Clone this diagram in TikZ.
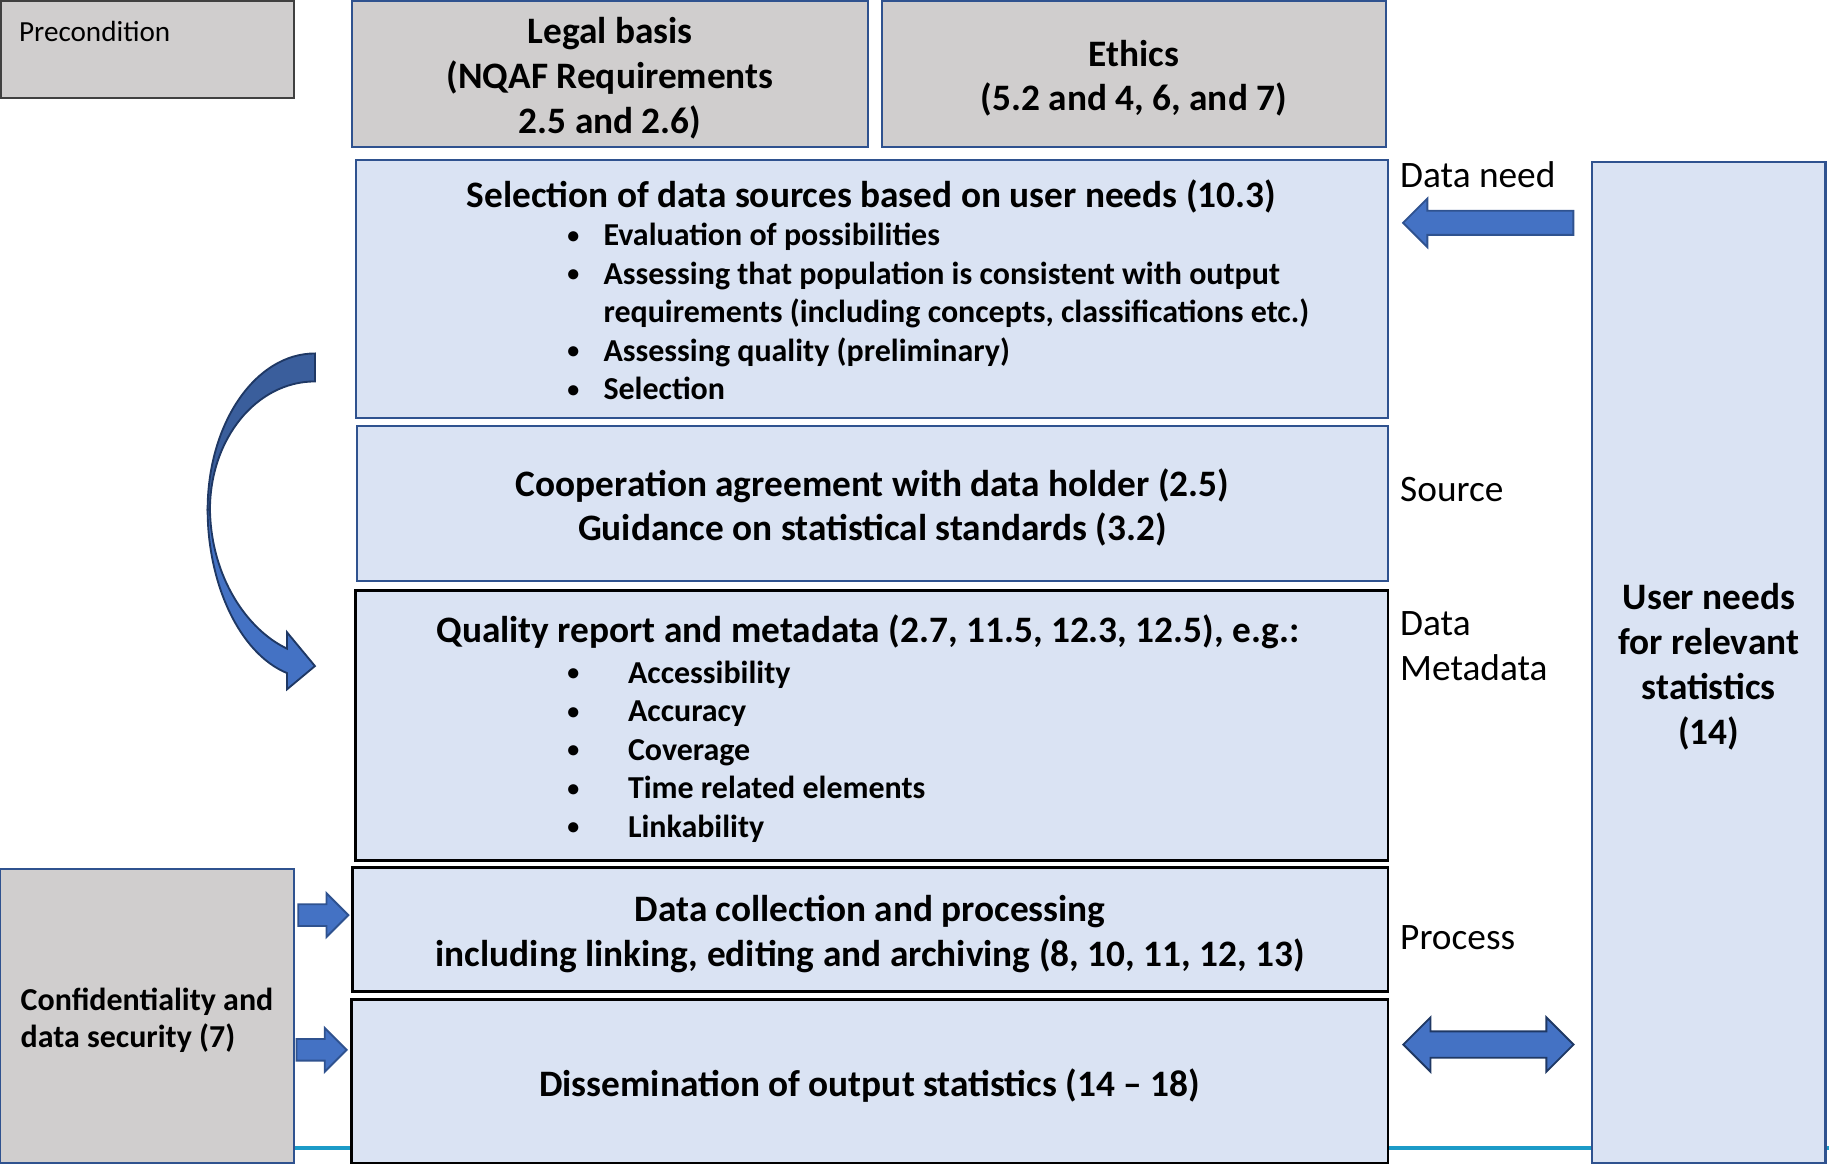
\documentclass[tikz,border=0pt]{standalone}
\usepackage{fontspec}
\setmainfont{Carlito}
\usetikzlibrary{shapes.arrows}
\definecolor{boxgray}{HTML}{D0CECE}
\definecolor{boxblue}{HTML}{DAE3F3}
\definecolor{edgeblue}{HTML}{2F528F}
\definecolor{edgegray}{HTML}{404040}
\definecolor{arrowblue}{HTML}{4472C4}
\definecolor{darkedge}{HTML}{1F3864}
\definecolor{curvedark}{HTML}{3A5E9C}
\definecolor{rulecyan}{HTML}{1C9BC8}
\newcommand\listbullet{\raisebox{1.1pt}{\scalebox{0.75}{\textbullet}}}
\tikzset{
  box/.style={rectangle, inner sep=2pt, align=center, font=\fontsize{16}{19.2}\selectfont\bfseries},
  graybox/.style={box, fill=boxgray, draw=edgeblue, line width=0.9pt},
  bluebox/.style={box, fill=boxblue, draw=edgeblue, line width=0.9pt},
  blackbox/.style={box, fill=boxblue, draw=black, line width=1.2pt},
  boxtext/.style={box, inner sep=0pt, yshift=-1.8pt},
  sidelabel/.style={anchor=west, inner sep=0pt, align=left, font=\fontsize{16}{19}\selectfont},
  listtext/.style={anchor=west, inner sep=0pt, font=\fontsize{13.7}{16.5}\selectfont\bfseries},
  blockarrow/.style={fill=arrowblue, draw=edgeblue, line width=0.8pt, inner xsep=0pt, minimum height=#1},
}
\begin{document}
\begin{tikzpicture}[x=0.5pt,y=-0.5pt]
	\useasboundingbox (0,0) rectangle (1568,998);
	\draw[rulecyan, line width=1.8pt] (252,984) -- (1568,984);
	\node[box, fill=boxgray, draw=edgegray, line width=0.9pt, minimum width=125.5pt, minimum height=41.5pt] (pre) at (126.5,42.5) {};
	\node[anchor=west, inner sep=0pt, font=\fontsize{12.5}{15}\selectfont] (pretext) at (16,27) {Precondition};
	\node[graybox, minimum width=221pt, minimum height=62.5pt] (legal) at (523,63.5) {};
	\node[boxtext] (legaltext) at (legal) {Legal basis\\(NQAF Requirements\\2.5 and 2.6)};
	\node[graybox, minimum width=216pt, minimum height=62.5pt] (ethics) at (972,63.5) {};
	\node[boxtext] (ethicstext) at (ethics) {Ethics\\(5.2 and 4, 6, and 7)};
	\node[bluebox, minimum width=442.5pt, minimum height=110.5pt] (sel) at (747.5,247.5) {};
	\node[box, inner sep=0pt] (seltitle) at (747,168) {Selection of data sources based on user needs (10.3)};
	\node[listtext] (sellist) at (486,270) {\begin{tabular}{@{}p{15.5pt}@{}l@{}}
		\listbullet & Evaluation of possibilities\\
		\listbullet & Assessing that population is consistent with output\\
		& requirements (including concepts, classifications etc.)\\
		\listbullet & Assessing quality (preliminary)\\
		\listbullet & Selection
	\end{tabular}};
	\node[bluebox, minimum width=442pt, minimum height=66.5pt] (coop) at (748,431.5) {};
	\node[boxtext] (cooptext) at (coop) {Cooperation agreement with data holder (2.5)\\Guidance on statistical standards (3.2)};
	\node[blackbox, minimum width=442.5pt, minimum height=116pt] (qual) at (747.5,622) {};
	\node[box, inner sep=0pt] (qualtitle) at (744,542) {Quality report and metadata (2.7, 11.5, 12.3, 12.5), e.g.:};
	\node[listtext] (quallist) at (486,645) {\begin{tabular}{@{}p{26pt}@{}l@{}}
		\listbullet & Accessibility\\
		\listbullet & Accuracy\\
		\listbullet & Coverage\\
		\listbullet & Time related elements\\
		\listbullet & Linkability
	\end{tabular}};
	\node[blackbox, minimum width=444pt, minimum height=53pt] (coll) at (746,797) {};
	\node[boxtext] (colltext) at (coll) {Data collection and processing\\including linking, editing and archiving (8, 10, 11, 12, 13)};
	\node[blackbox, minimum width=444.5pt, minimum height=70pt] (diss) at (745.5,927) {};
	\node[boxtext] (disstext) at (diss) {Dissemination of output statistics (14 – 18)};
	\node[bluebox, minimum width=100pt, minimum height=429pt] (user) at (1465,568) {};
	\node[boxtext] (usertext) at (user) {User needs\\for relevant\\statistics\\(14)};
	\node[graybox, minimum width=126pt, minimum height=126pt] (conf) at (126,871) {};
	\node[boxtext, align=left, font=\fontsize{13.7}{16}\selectfont\bfseries] (conftext) at (conf) {Confidentiality and\\data security (7)};
	\node[sidelabel] (needlbl) at (1200,150) {Data need};
	\node[sidelabel] (srclbl) at (1200,420) {Source};
	\node[sidelabel] (metalbl) at (1200,554) {Data\\Metadata};
	\node[sidelabel] (proclbl) at (1200,804) {Process};
	\node[blockarrow=73pt, single arrow, shape border rotate=180, inner ysep=4.75pt, single arrow head extend=5.25pt] (needarrow) at (1281,191) {};
	\node[blockarrow=73pt, double arrow, draw=darkedge, inner ysep=5.25pt, double arrow head extend=6pt] (userarrow) at (1276,895.5) {};
	\node[blockarrow=21.5pt, single arrow, inner ysep=4.25pt, single arrow head extend=4.75pt] (confarrowa) at (272.5,784.5) {};
	\node[blockarrow=21.5pt, single arrow, inner ysep=4.25pt, single arrow head extend=4.75pt] (confarrowb) at (271,900) {};
	\filldraw[fill=curvedark, draw=darkedge, line width=0.8pt] (270,303) .. controls (219,303) and (178,363) .. (178,437) -- (180,437) .. controls (180,376) and (220,327) .. (270,327) -- cycle;
	\filldraw[fill=arrowblue, draw=darkedge, line width=0.8pt] (178,437) .. controls (178,500) and (205,560) .. (246,577) -- (246,591) -- (270,571) -- (246,542) -- (246,556) .. controls (212,540) and (181,495) .. (180,437) -- cycle;
\end{tikzpicture}
\end{document}
